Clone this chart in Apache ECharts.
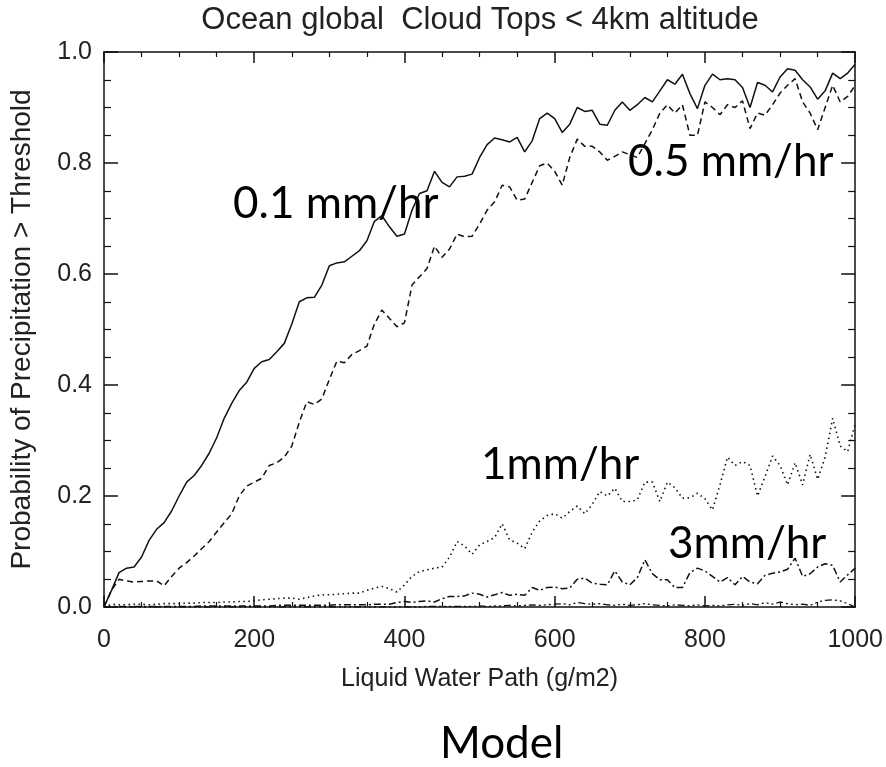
<!DOCTYPE html>
<html>
<head>
<meta charset="utf-8">
<script src="https://cdn.jsdelivr.net/npm/echarts@6/dist/echarts.min.js"></script>
<style>
  html, body { margin: 0; padding: 0; background: #fff; }
  #main { width: 886px; height: 767px; }
</style>
</head>
<body>
<div id="main"></div>
<script>
// liquid water path (g/m2)
var lwp = [0, 10, 20, 30, 40, 50, 60, 70, 80, 90,
  100, 110, 120, 130, 140, 150, 160, 170, 180, 190,
  200, 210, 220, 230, 240, 250, 260, 270, 280, 290,
  300, 310, 320, 330, 340, 350, 360, 370, 380, 390,
  400, 410, 420, 430, 440, 450, 460, 470, 480, 490,
  500, 510, 520, 530, 540, 550, 560, 570, 580, 590,
  600, 610, 620, 630, 640, 650, 660, 670, 680, 690,
  700, 710, 720, 730, 740, 750, 760, 770, 780, 790,
  800, 810, 820, 830, 840, 850, 860, 870, 880, 890,
  900, 910, 920, 930, 940, 950, 960, 970, 980, 990, 1000];

// probability > 0.1 mm/hr (solid)
var p01 = [0.00, 0.03, 0.062, 0.07, 0.072, 0.09, 0.12, 0.14, 0.152, 0.173,
  0.20, 0.225, 0.237, 0.255, 0.277, 0.305, 0.34, 0.367, 0.39, 0.405,
  0.43, 0.442, 0.446, 0.46, 0.475, 0.51, 0.55, 0.557, 0.558, 0.58,
  0.615, 0.62, 0.622, 0.632, 0.642, 0.66, 0.695, 0.705, 0.685, 0.668,
  0.672, 0.715, 0.745, 0.75, 0.785, 0.765, 0.757, 0.775, 0.776, 0.78,
  0.81, 0.833, 0.845, 0.842, 0.838, 0.846, 0.82, 0.84, 0.88, 0.89,
  0.88, 0.855, 0.87, 0.90, 0.893, 0.895, 0.87, 0.868, 0.895, 0.91,
  0.895, 0.905, 0.918, 0.91, 0.93, 0.95, 0.942, 0.96, 0.925, 0.898,
  0.94, 0.96, 0.95, 0.952, 0.95, 0.936, 0.90, 0.945, 0.94, 0.928,
  0.955, 0.97, 0.967, 0.95, 0.937, 0.915, 0.93, 0.962, 0.952, 0.962, 0.978];

// probability > 0.5 mm/hr (dashed)
var p05 = [0.00, 0.03, 0.05, 0.047, 0.045, 0.046, 0.047, 0.047, 0.038, 0.055,
  0.07, 0.08, 0.092, 0.105, 0.118, 0.135, 0.152, 0.168, 0.20, 0.218,
  0.225, 0.232, 0.255, 0.26, 0.27, 0.29, 0.333, 0.37, 0.365, 0.375,
  0.41, 0.443, 0.44, 0.455, 0.462, 0.47, 0.51, 0.535, 0.52, 0.505,
  0.512, 0.58, 0.595, 0.61, 0.65, 0.63, 0.645, 0.672, 0.667, 0.668,
  0.69, 0.715, 0.73, 0.76, 0.757, 0.733, 0.735, 0.765, 0.795, 0.80,
  0.785, 0.76, 0.81, 0.843, 0.83, 0.83, 0.82, 0.805, 0.812, 0.82,
  0.815, 0.81, 0.835, 0.86, 0.89, 0.905, 0.89, 0.905, 0.85, 0.85,
  0.91, 0.90, 0.887, 0.905, 0.90, 0.912, 0.862, 0.89, 0.886, 0.905,
  0.926, 0.94, 0.952, 0.91, 0.89, 0.86, 0.90, 0.94, 0.91, 0.92, 0.94];

// probability > 1 mm/hr (dotted)
var p1 = [0.00, 0.005, 0.004, 0.004, 0.005, 0.005, 0.004, 0.005, 0.006, 0.006,
  0.006, 0.007, 0.007, 0.008, 0.008, 0.008, 0.009, 0.009, 0.010, 0.010,
  0.011, 0.013, 0.014, 0.015, 0.016, 0.016, 0.014, 0.017, 0.02, 0.022,
  0.022, 0.023, 0.024, 0.025, 0.025, 0.03, 0.034, 0.037, 0.033, 0.027,
  0.04, 0.055, 0.064, 0.067, 0.07, 0.072, 0.09, 0.118, 0.11, 0.095,
  0.112, 0.118, 0.125, 0.15, 0.121, 0.115, 0.105, 0.135, 0.155, 0.165,
  0.168, 0.16, 0.172, 0.182, 0.168, 0.185, 0.208, 0.20, 0.214, 0.19,
  0.19, 0.193, 0.225, 0.225, 0.19, 0.225, 0.215, 0.196, 0.197, 0.205,
  0.195, 0.175, 0.22, 0.27, 0.255, 0.262, 0.255, 0.20, 0.235, 0.272,
  0.255, 0.22, 0.26, 0.22, 0.275, 0.23, 0.27, 0.34, 0.29, 0.28, 0.33];

// probability > 3 mm/hr (dash-dot)
var p3 = [0.00, 0.001, 0.001, 0.001, 0.001, 0.001, 0.001, 0.001, 0.001, 0.001,
  0.001, 0.001, 0.001, 0.002, 0.002, 0.002, 0.002, 0.002, 0.002, 0.002,
  0.002, 0.002, 0.002, 0.003, 0.003, 0.003, 0.003, 0.003, 0.003, 0.003,
  0.003, 0.004, 0.004, 0.004, 0.004, 0.004, 0.005, 0.005, 0.005, 0.008,
  0.01, 0.008, 0.01, 0.011, 0.009, 0.015, 0.019, 0.019, 0.02, 0.025,
  0.023, 0.018, 0.022, 0.026, 0.021, 0.023, 0.021, 0.035, 0.03, 0.035,
  0.036, 0.033, 0.034, 0.05, 0.052, 0.043, 0.041, 0.04, 0.065, 0.045,
  0.04, 0.053, 0.085, 0.06, 0.049, 0.049, 0.035, 0.035, 0.062, 0.07,
  0.065, 0.055, 0.045, 0.053, 0.04, 0.055, 0.045, 0.042, 0.057, 0.061,
  0.063, 0.068, 0.088, 0.055, 0.06, 0.072, 0.078, 0.075, 0.045, 0.058, 0.07];

// probability > highest threshold (near zero)
var p10 = [0.00, 0.00, 0.00, 0.00, 0.00, 0.00, 0.00, 0.00, 0.00, 0.00,
  0.00, 0.00, 0.00, 0.00, 0.00, 0.00, 0.00, 0.00, 0.00, 0.00,
  0.00, 0.00, 0.00, 0.00, 0.00, 0.00, 0.00, 0.00, 0.00, 0.00,
  0.00, 0.00, 0.00, 0.00, 0.00, 0.00, 0.00, 0.00, 0.00, 0.00,
  0.00, 0.00, 0.00, 0.001, 0.001, 0.001, 0.001, 0.001, 0.001, 0.001,
  0.002, 0.001, 0.002, 0.002, 0.003, 0.002, 0.003, 0.004, 0.003, 0.004,
  0.005, 0.006, 0.004, 0.008, 0.006, 0.005, 0.006, 0.004, 0.003, 0.005,
  0.003, 0.004, 0.006, 0.004, 0.003, 0.002, 0.004, 0.003, 0.002, 0.004,
  0.002, 0.003, 0.002, 0.004, 0.005, 0.003, 0.006, 0.004, 0.008, 0.005,
  0.009, 0.006, 0.004, 0.005, 0.003, 0.009, 0.012, 0.013, 0.011, 0.006, 0.00];

function pairs(vals) {
  return lwp.map(function (x, i) { return [x, vals[i]]; });
}

var ink = '#111';
var tickFont = 'Liberation Sans';
var labelFont = 'Lato';

var myChart = echarts.init(document.getElementById('main'));

function xAxisCfg(pos, showLabel) {
  return {
    type: 'value', min: 0, max: 1000, interval: 200, position: pos,
    axisLine: { show: true, onZero: false, lineStyle: { color: ink, width: 1.5 } },
    axisTick: { show: true, inside: true, length: 11, lineStyle: { color: ink, width: 1.5 } },
    minorTick: { show: true, splitNumber: 4, length: 5, lineStyle: { color: ink, width: 1.2 } },
    splitLine: { show: false },
    axisLabel: {
      show: showLabel, color: '#222', fontSize: 25, fontFamily: tickFont, margin: 21,
      formatter: function (v) { return String(v); }
    },
    name: showLabel ? 'Liquid Water Path (g/m2)' : '',
    nameLocation: 'middle', nameGap: 60,
    nameTextStyle: { color: '#222', fontSize: 25, fontFamily: tickFont }
  };
}

function yAxisCfg(pos, showLabel) {
  return {
    type: 'value', min: 0, max: 1, interval: 0.2, position: pos,
    axisLine: { show: true, onZero: false, lineStyle: { color: ink, width: 1.5 } },
    axisTick: { show: true, inside: true, length: 14, lineStyle: { color: ink, width: 1.5 } },
    minorTick: { show: true, splitNumber: 4, length: 7, lineStyle: { color: ink, width: 1.2 } },
    splitLine: { show: false },
    axisLabel: {
      show: showLabel, color: '#222', fontSize: 25, fontFamily: tickFont, margin: 12,
      formatter: function (v) { return v.toFixed(1); }
    },
    name: showLabel ? 'Probability of Precipitation > Threshold' : '',
    nameLocation: 'middle', nameGap: 68,
    nameTextStyle: { color: '#222', fontSize: 28, fontFamily: tickFont }
  };
}

function lineSeries(vals, type, width) {
  return {
    type: 'line', data: pairs(vals), showSymbol: false, symbol: 'none',
    xAxisIndex: 0, yAxisIndex: 0, clip: true,
    lineStyle: { color: ink, width: width, type: type, cap: 'butt' }
  };
}

var option = {
  animation: false,
  backgroundColor: '#fff',
  grid: { left: 103, right: 29, top: 52, bottom: 160, containLabel: false },
  xAxis: [xAxisCfg('bottom', true), xAxisCfg('top', false)],
  yAxis: [yAxisCfg('left', true), yAxisCfg('right', false)],
  series: [
    lineSeries(p01, 'solid', 1.5),
    lineSeries(p05, [6, 4], 1.5),
    lineSeries(p1, [1.5, 3.5], 1.6),
    lineSeries(p3, [7, 3, 2, 3], 1.5),
    lineSeries(p10, [7, 3, 2, 3, 2, 3, 2, 3], 1.3)
  ],
  graphic: [
    { type: 'text', x: 480, y: 5, style: { text: 'Ocean global  Cloud Tops < 4km altitude', fontSize: 31, fontFamily: tickFont, fill: '#222', align: 'center' } },
    { type: 'text', x: 233, y: 182, style: { text: '0.1 mm/hr', fontSize: 44, fontFamily: labelFont, fill: '#000' } },
    { type: 'text', x: 628, y: 140, style: { text: '0.5 mm/hr', fontSize: 44, fontFamily: labelFont, fill: '#000' } },
    { type: 'text', x: 481, y: 443, style: { text: '1mm/hr', fontSize: 44, fontFamily: labelFont, fill: '#000' } },
    { type: 'text', x: 668, y: 522, style: { text: '3mm/hr', fontSize: 44, fontFamily: labelFont, fill: '#000' } },
    { type: 'text', x: 440, y: 722, style: { text: 'Model', fontSize: 44, fontFamily: labelFont, fill: '#000' } }
  ]
};

myChart.setOption(option);
</script>
</body>
</html>
